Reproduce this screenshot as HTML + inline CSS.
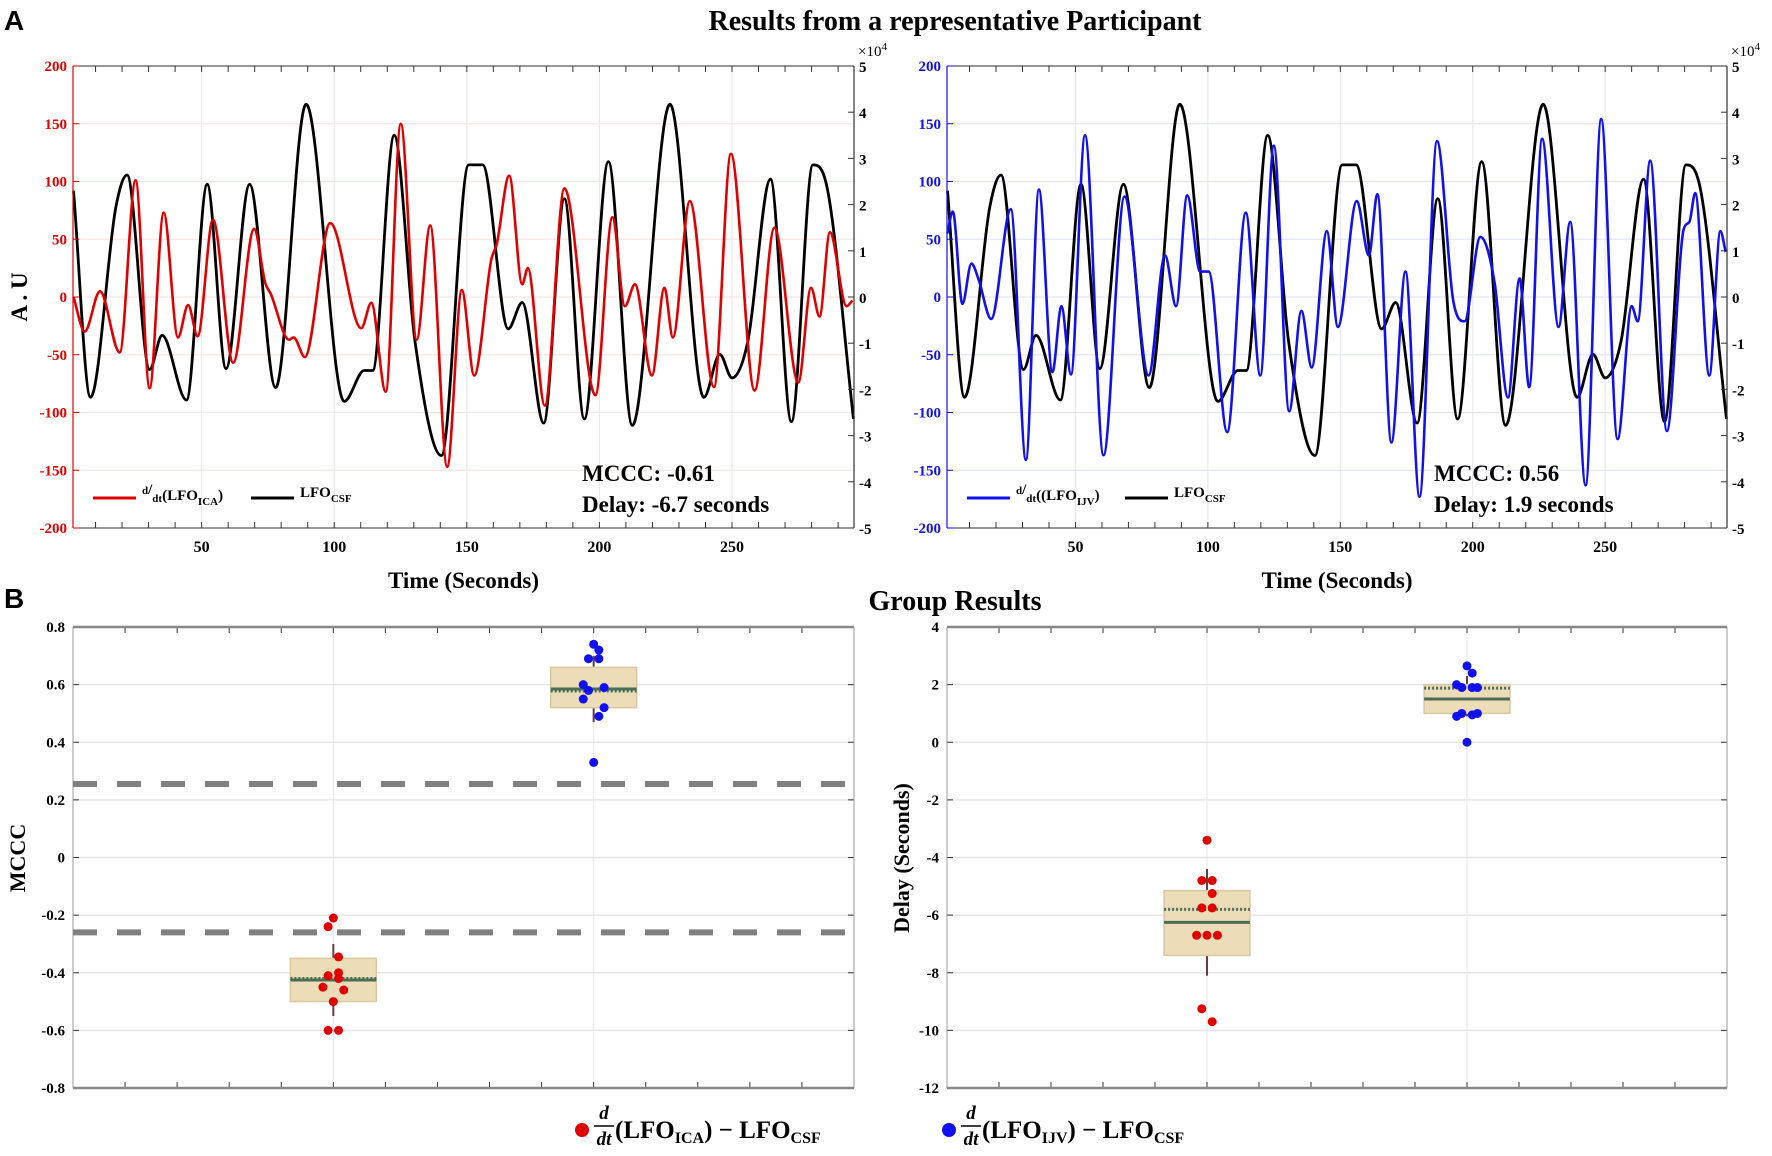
<!DOCTYPE html>
<html><head><meta charset="utf-8"><style>
html,body{margin:0;padding:0;background:#fff;}
svg{display:block;font-family:"Liberation Serif",serif;font-weight:bold;}
</style></head><body>
<svg id="fig" width="1772" height="1156" viewBox="0 0 1772 1156">
<text x="4" y="30" font-family="Liberation Sans" font-size="28">A</text>
<text x="955" y="30" font-size="28" text-anchor="middle">Results from a representative Participant</text>
<text x="4" y="608" font-family="Liberation Sans" font-size="28">B</text>
<text x="955" y="610" font-size="28" text-anchor="middle">Group Results</text>
<g id="g"></g>
</svg>
<script>
// ---- time series data (t seconds, value) ----
const csfT=[1.7,8.1,17.7,21.9,30.4,35.1,44.3,52.1,59.2,68.1,77.9,89.4,103.8,111.3,114.5,122.6,130.4,140.4,150.7,156,165.6,170.9,179,186.8,194.3,203.4,212.4,226.6,239.4,245.4,250,256,264.5,272.4,280.5,285.8,295.8];
const csfV=[2.30,-2.17,1.96,2.64,-1.57,-0.83,-2.23,2.44,-1.55,2.44,-1.96,4.17,-2.26,-1.59,-1.59,3.50,-0.93,-3.43,2.86,2.86,-0.69,-0.12,-2.73,2.13,-2.64,2.93,-2.78,4.17,-2.17,-1.24,-1.75,-0.95,2.55,-2.70,2.86,2.38,-2.64];
const icaT=[1.7,5.9,11.7,19.1,25.1,30.4,35.7,41.1,44.9,48.5,54.3,61.9,69.8,74,76,83,84.7,88.9,98.5,110.2,114,119.4,125.1,131.1,136.2,142.6,148.1,152.8,159.2,161.3,166,170.9,173,179.4,186.8,198.5,204.9,209.6,213.4,219.8,224.5,227.7,234.1,243.2,249.6,258.5,266,275,279.8,283,286.9,293.2,295.4];
const icaV=[0,-30,5,-48,101,-79,73,-35,-7,-34,67,-57,59,12,3,-37,-35,-52,64,-27,-5,-82,150,-37,62,-147,6,-68,32,46,105,11,25,-94,94,-85,69,-8,11,-68,8,-35,83,-78,124,-81,60,-74,8,-17,56,-8,-3];
const ijvT=[1.6,3.7,7.3,10.7,13.3,18.2,25.6,31.3,36.2,41.3,44.7,48.3,53.6,60.6,68.5,77.6,83.8,88,92.2,97.1,100.3,107.3,114.3,119.8,124.9,130.7,135.3,139.2,144.9,149.1,156.2,160.8,164,169.3,174.6,179.9,186.5,192.7,196.9,202.9,208.2,213.3,217.7,221.3,226.2,232.4,236.8,242.6,248.5,254.7,260,262.3,267,273.3,279.7,281.8,284,289.3,293.5,295.5];
const ijvV=[55,74,-6,29,16,-19,76,-141,93,-65,-8,-67,140,-137,87,-68,36,-8,88,22,22,-117,73,-68,131,-99,-12,-61,57,-26,83,36,89,-126,22,-173,135,-4,-21,52,13,-87,16,-78,137,-26,65,-163,154,-123,-8,-21,118,-116,59,65,90,-68,57,39];
const yTicksL=[-200,-150,-100,-50,0,50,100,150,200];
const yTicksR=[-5,-4,-3,-2,-1,0,1,2,3,4,5];
const xTicks=[50,100,150,200,250];
// ---- group data ----
const mcccRed=[-0.21,-0.24,-0.345,-0.40,-0.41,-0.42,-0.45,-0.46,-0.50,-0.60,-0.60];
const mcccBlue=[0.74,0.72,0.69,0.69,0.60,0.59,0.58,0.55,0.52,0.49,0.33];
const delayRed=[-3.4,-4.8,-4.8,-5.25,-5.75,-5.75,-6.7,-6.7,-6.7,-9.25,-9.7];
const delayBlue=[2.65,2.4,1.9,1.9,2.0,1.9,1.0,0.9,1.0,0.95,0.0];
const jitter=[0,-0.02,0.02,0.02,-0.02,0.02,-0.04,0.04,0,-0.02,0.02];
const jitterB=[0,0.02,-0.02,0.02,-0.04,0.04,-0.02,-0.04,0.04,0.02,0];
// box stats: [q1, q3, median, mean, whiskerLow, whiskerHigh]
const boxMcccRed=[-0.50,-0.35,-0.425,-0.42,-0.55,-0.30];
const boxMcccBlue=[0.52,0.66,0.585,0.578,0.47,0.70];
const boxDelayRed=[-7.4,-5.15,-6.25,-5.8,-8.1,-4.4];
const boxDelayBlue=[1.0,2.0,1.5,1.88,0.9,2.3];
const mcccThresh=[0.255,-0.26];

const NS="http://www.w3.org/2000/svg";
const G=document.getElementById('g');
function el(tag,attrs,parent,text){const e=document.createElementNS(NS,tag);for(const k in attrs)e.setAttribute(k,attrs[k]);if(text!==undefined)e.textContent=text;(parent||G).appendChild(e);return e;}
// monotone cubic (Fritsch-Carlson) -> no overshoot at extrema
function smooth(pts){const n=pts.length,d=[],m=[];
 for(let i=0;i<n-1;i++)d.push((pts[i+1][1]-pts[i][1])/(pts[i+1][0]-pts[i][0]));
 m[0]=d[0];m[n-1]=d[n-2];
 for(let i=1;i<n-1;i++){m[i]=(d[i-1]*d[i]<=0)?0:(d[i-1]+d[i])/2;}
 for(let i=0;i<n-1;i++){if(d[i]===0){m[i]=0;m[i+1]=0;continue;}
  const a=m[i]/d[i],b=m[i+1]/d[i],s=a*a+b*b;if(s>9){const t=3/Math.sqrt(s);m[i]=t*a*d[i];m[i+1]=t*b*d[i];}}
 let p='M'+pts[0][0].toFixed(1)+','+pts[0][1].toFixed(1);
 for(let i=0;i<n-1;i++){const h=(pts[i+1][0]-pts[i][0])/3;
  p+=' C'+(pts[i][0]+h).toFixed(1)+','+(pts[i][1]+m[i]*h).toFixed(1)+' '+(pts[i+1][0]-h).toFixed(1)+','+(pts[i+1][1]-m[i+1]*h).toFixed(1)+' '+pts[i+1][0].toFixed(1)+','+pts[i+1][1].toFixed(1);}
 return p;}

function timePanel(x0,x1,col,gridCol,T,V,name,legLabel,sub,mccc,delay,txtX){
 const y0=66,y1=528,tmin=1.5,tmax=296;
 const X=t=>x0+(t-tmin)/(tmax-tmin)*(x1-x0);
 const YL=v=>y1-(v+200)/400*(y1-y0);
 const YR=v=>y1-(v+5)/10*(y1-y0);
 const g=el('g',{});
 
 
 for(const t of xTicks){el('line',{x1:X(t),x2:X(t),y1:y0,y2:y1,stroke:'#e6e6e6','stroke-width':1},g);}
 for(const v of yTicksL){el('line',{x1:x0,x2:x1,y1:YL(v),y2:YL(v),stroke:gridCol,'stroke-width':1.2},g);}
 for(let t=10;t<tmax;t+=10){el('line',{x1:X(t),x2:X(t),y1:y1,y2:y1-6,stroke:'#333','stroke-width':1},g);el('line',{x1:X(t),x2:X(t),y1:y0,y2:y0+6,stroke:'#333','stroke-width':1},g);}
 const blk=el('path',{d:smooth(csfT.map((t,i)=>[X(t),YR(csfV[i])])),fill:'none',stroke:'#000','stroke-width':2.8},g);
 
 
 const s=el('path',{d:smooth(T.map((t,i)=>[X(t),YL(V[i])])),fill:'none',stroke:col,'stroke-width':2.6},g);
 
 
 el('line',{x1:x0,x2:x1,y1:y0,y2:y0,stroke:'#333','stroke-width':1},g);
 el('line',{x1:x0,x2:x1,y1:y1,y2:y1,stroke:'#333','stroke-width':1},g);
 el('line',{x1:x0,x2:x0,y1:y0,y2:y1,stroke:col,'stroke-width':1.2},g);
 el('line',{x1:x1,x2:x1,y1:y0,y2:y1,stroke:'#333','stroke-width':1.2},g);
 for(const v of yTicksL){el('line',{x1:x0,x2:x0+6,y1:YL(v),y2:YL(v),stroke:col},g);
  const tx=el('text',{x:x0-6,y:YL(v)+5,'font-size':15,fill:col,'text-anchor':'end'},g,String(v));
  
  }
 for(const v of yTicksR){el('line',{x1:x1,x2:x1-6,y1:YR(v),y2:YR(v),stroke:'#333'},g);
  const tx=el('text',{x:x1+5,y:YR(v)+6,'font-size':15,fill:'#000'},g,String(v));
  
  }
 const ex=el('text',{x:x1+4,y:56,'font-size':15,'font-weight':'normal'},g,'×10');
 el('tspan',{dy:-6,'font-size':11},ex,'4');
 
 
 for(const t of xTicks){const tx=el('text',{x:X(t),y:y1+24,'font-size':16,'text-anchor':'middle'},g,String(t));
  
  }
 const xl=el('text',{x:(x0+x1)/2,y:588,'font-size':23,'text-anchor':'middle'},g,'Time (Seconds)');
 
 
 const lg=el('g',{},g);
 
 
 el('line',{x1:x0+20,x2:x0+63,y1:498,y2:498,stroke:col,'stroke-width':3},lg);
 const lt=el('text',{x:x0+69,y:500,'font-size':15},lg);
 el('tspan',{dy:-6,'font-size':11},lt,'d');el('tspan',{dy:0},lt,'/');el('tspan',{dy:8,'font-size':11},lt,'dt');
 el('tspan',{dy:-2},lt,legLabel);el('tspan',{dy:5,'font-size':11},lt,sub);el('tspan',{dy:-5},lt,')');
 el('line',{x1:x0+178,x2:x0+221,y1:498,y2:498,stroke:'#000','stroke-width':3},lg);
 const l2=el('text',{x:x0+227,y:497,'font-size':15},lg,'LFO');el('tspan',{dy:5,'font-size':11},l2,'CSF');
 const m=el('text',{x:txtX,y:481,'font-size':23},g,mccc);
 
 
 const d=el('text',{x:txtX,y:512,'font-size':23},g,delay);
 
 
}
timePanel(73,854,'#e00000','#fde4e4',icaT,icaV,'ica','(LFO','ICA','MCCC: -0.61','Delay: -6.7 seconds',582);
timePanel(947,1727,'#1010f0','#e4e4fd',ijvT,ijvV,'ijv','((LFO','IJV','MCCC: 0.56','Delay: 1.9 seconds',1434);
const yl=el('text',{x:0,y:0,'font-size':23,'text-anchor':'middle',transform:'translate(27,297) rotate(-90)'},G,'A . U');



function groupPanel(x0,x1,vmin,vmax,step,dec,red,blue,bR,bB,name,label,labX,thresh){
 const y0=627,y1=1088;
 const X=c=>x0+c/3*(x1-x0);
 const Y=v=>y1-(v-vmin)/(vmax-vmin)*(y1-y0);
 const g=el('g',{});
 
 
 for(const c of [1,2])el('line',{x1:X(c),x2:X(c),y1:y0,y2:y1,stroke:'#e6e6e6'},g);
 for(let v=vmin;v<=vmax+1e-9;v+=step){el('line',{x1:x0,x2:x1,y1:Y(v),y2:Y(v),stroke:'#e6e6e6','stroke-width':1.5},g);
  el('line',{x1:x0,x2:x0+6,y1:Y(v),y2:Y(v),stroke:'#333'},g);el('line',{x1:x1,x2:x1-6,y1:Y(v),y2:Y(v),stroke:'#333'},g);
  const lbl=Math.abs(v)<1e-9?'0':v.toFixed(dec);
  const tx=el('text',{x:x0-8,y:Y(v)+5,'font-size':15,'text-anchor':'end'},g,lbl);
  
  }
 for(let c=0.2;c<3;c+=0.2){el('line',{x1:X(c),x2:X(c),y1:y1,y2:y1-6,stroke:'#333'},g);el('line',{x1:X(c),x2:X(c),y1:y0,y2:y0+6,stroke:'#333'},g);}
 el('line',{x1:x0,x2:x1,y1:y0,y2:y0,stroke:'#888','stroke-width':2.5},g);
 el('line',{x1:x0,x2:x1,y1:y1,y2:y1,stroke:'#888','stroke-width':2.5},g);
 el('line',{x1:x0,x2:x0,y1:y0,y2:y1,stroke:'#999'},g);
 el('line',{x1:x1,x2:x1,y1:y0,y2:y1,stroke:'#999'},g);
 if(thresh)for(const t of thresh){const l=el('line',{x1:x0,x2:x1,y1:Y(t),y2:Y(t),stroke:'#808080','stroke-width':6,'stroke-dasharray':'24,20'},g);
  
  }
 const drawBox=(c,b,pts,jit,col,nm)=>{const bg=el('g',{},g);
  
  
  const w=0.165;
  el('line',{x1:X(c),x2:X(c),y1:Y(b[4]),y2:Y(b[5]),stroke:'#6b3a3a','stroke-width':2},bg);
  el('rect',{x:X(c-w),y:Y(b[1]),width:X(c+w)-X(c-w),height:Y(b[0])-Y(b[1]),fill:'#ecdcb8',stroke:'#d8c8a0','stroke-width':1.5},bg);
  el('line',{x1:X(c-w),x2:X(c+w),y1:Y(b[2]),y2:Y(b[2]),stroke:'#4a6e55','stroke-width':3},bg);
  el('line',{x1:X(c-w),x2:X(c+w),y1:Y(b[3]),y2:Y(b[3]),stroke:'#4a6e55','stroke-width':3,'stroke-dasharray':'2,2'},bg);
  pts.forEach((v,i)=>{const p=el('circle',{cx:X(c+jit[i]),cy:Y(v),r:4.5,fill:col},bg);
   
   });};
 drawBox(1,bR,red,jitter,'#e00000','ica');
 drawBox(2,bB,blue,jitterB,'#1010f0','ijv');
 const t=el('text',{x:0,y:0,'font-size':22,'text-anchor':'middle',transform:'translate('+labX+',858) rotate(-90)'},g,label);
 
 
}
groupPanel(73,854,-0.8,0.8,0.2,1,mcccRed,mcccBlue,boxMcccRed,boxMcccBlue,'mccc','MCCC',25,mcccThresh);
groupPanel(947,1727,-12,4,2,0,delayRed,delayBlue,boxDelayRed,boxDelayBlue,'delay','Delay (Seconds)',909,null);

function legEntry(x,col,sub,name){const g=el('g',{});
 
 
 el('circle',{cx:x,cy:1130,r:7,fill:col},g);
 el('text',{x:x+22,y:1119,'font-size':19,'font-style':'italic','text-anchor':'middle'},g,'d');
 el('line',{x1:x+12,x2:x+32,y1:1126,y2:1126,stroke:'#000','stroke-width':1.6},g);
 el('text',{x:x+22,y:1145,'font-size':19,'font-style':'italic','text-anchor':'middle'},g,'dt');
 const t=el('text',{x:x+33,y:1138,'font-size':25},g,'(LFO');
 el('tspan',{dy:5,'font-size':16},t,sub);el('tspan',{dy:-5},t,') − LFO');el('tspan',{dy:5,'font-size':16},t,'CSF');}
legEntry(582,'#e00000','ICA','legend-ica');
legEntry(949,'#1010f0','IJV','legend-ijv');
</script>
</body></html>
